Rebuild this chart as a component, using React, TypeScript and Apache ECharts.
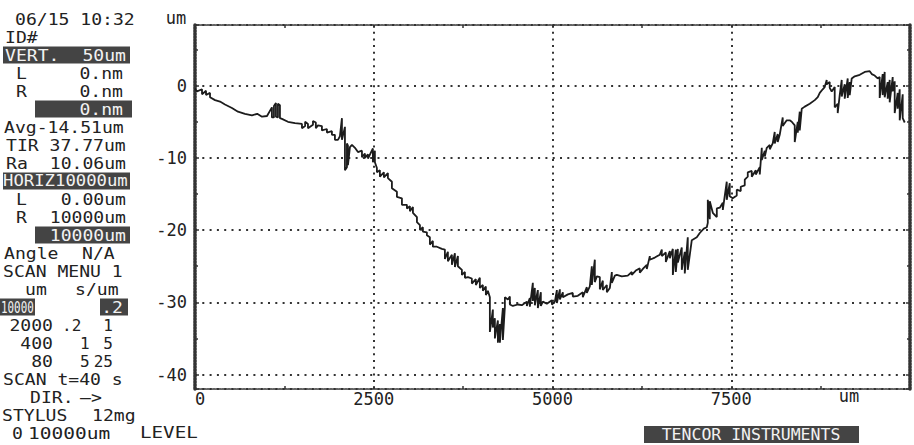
import React, { useEffect, useRef } from "react";
import * as echarts from "echarts";

// ---- data (um) ----
const xTickLabels = ["0", "2500", "5000", "7500"];
const yTickValues = [0, -10, -20, -30, -40];

const profileSeg1: [number, number][] = [
  [0, -0.4], [28, -0.8], [98, -0.5], [98, -1.2], [154, -0.7], [154, -1.3], [210, -1.0], [210, -1.6],
  [280, -2.0], [350, -2.2], [419, -2.6], [517, -3.1], [601, -3.6], [699, -3.9], [797, -4.1], [870, -3.9],
  [937, -4.3], [1007, -4.2], [1076, -3.0], [1076, -4.4], [1104, -4.4], [1104, -2.8], [1132, -2.4], [1132, -4.3],
  [1160, -4.4], [1160, -2.5], [1188, -2.7], [1188, -4.5], [1216, -4.6], [1300, -5.0], [1398, -5.2], [1496, -5.3],
  [1496, -5.9], [1540, -5.6], [1540, -5.0], [1580, -5.3], [1580, -5.9], [1650, -5.4], [1650, -4.9], [1690, -5.1],
  [1690, -5.9], [1720, -5.5], [1775, -5.6], [1775, -6.2], [1845, -6.0], [1845, -6.5], [1915, -6.3], [1915, -6.8],
  [1957, -6.8], [1957, -7.5], [1999, -7.5], [2027, -7.0], [2055, -4.5], [2055, -7.5], [2097, -5.7], [2097, -11.7],
  [2125, -11.3], [2125, -8.0], [2139, -8.3], [2139, -11.0], [2167, -8.5], [2195, -8.2], [2237, -8.6], [2279, -9.2],
  [2335, -9.0], [2335, -9.9], [2377, -9.4], [2377, -10.0], [2419, -9.5], [2419, -10.1], [2488, -8.7], [2488, -10.6],
  [2516, -9.0], [2516, -10.6], [2544, -11.4], [2544, -12.0],
];

const profileSeg2: [number, number][] = [
  [2586, -11.7], [2586, -12.6], [2642, -12.0], [2642, -12.7], [2698, -12.1], [2698, -12.8], [2754, -13.3], [2754, -14.2],
  [2824, -14.7], [2824, -15.4], [2894, -15.6], [2894, -16.5], [2964, -16.5], [2964, -17.0], [3006, -16.7], [3006, -17.4],
  [3048, -16.8], [3048, -17.6], [3104, -18.2], [3104, -18.9], [3146, -19.3], [3146, -20.0], [3187, -19.6], [3187, -20.2],
  [3243, -20.3], [3243, -20.7], [3285, -21.0], [3285, -22.0], [3327, -21.5], [3327, -22.3], [3383, -22.3], [3453, -22.6],
  [3495, -22.7], [3495, -24.0], [3537, -23.0], [3537, -24.3], [3593, -23.4], [3593, -24.8], [3635, -23.2], [3635, -25.1],
  [3677, -23.6], [3677, -25.0], [3733, -25.5], [3733, -26.2], [3775, -25.8], [3775, -26.6], [3817, -26.5], [3872, -26.7],
  [3872, -27.4], [3928, -26.8], [3928, -27.6], [3984, -26.6], [3984, -28.0], [4026, -27.6], [4026, -28.4], [4068, -27.8],
  [4068, -29.0], [4096, -28.4], [4124, -29.3], [4124, -34.1], [4166, -31.0], [4166, -33.5], [4194, -32.2], [4194, -35.0],
  [4236, -32.5], [4236, -35.6], [4264, -33.0], [4264, -35.6], [4306, -30.8], [4306, -35.2], [4334, -30.6], [4334, -29.3],
  [4376, -29.6], [4404, -29.2], [4404, -30.3], [4446, -30.5], [4516, -30.3], [4571, -30.4], [4641, -29.9], [4641, -30.5],
  [4683, -29.4], [4683, -30.6], [4725, -27.3], [4725, -29.8], [4753, -28.0], [4753, -30.4], [4795, -28.3], [4795, -30.8],
  [4837, -28.6], [4837, -30.5], [4865, -29.9], [4921, -30.2], [4991, -29.7], [4991, -30.3], [5033, -29.9], [5061, -28.3],
  [5061, -30.1],
];

const profileSeg3: [number, number][] = [
  [5103, -28.2], [5103, -29.6], [5145, -28.6], [5145, -29.3], [5215, -28.9], [5284, -28.7], [5284, -29.2], [5354, -29.1],
  [5424, -28.6], [5424, -29.3], [5480, -27.9], [5480, -28.7], [5522, -27.8], [5550, -25.0], [5550, -27.6], [5592, -24.1],
  [5592, -27.2], [5620, -26.4], [5662, -26.5], [5662, -28.2], [5704, -27.0], [5704, -28.3], [5760, -27.6], [5760, -28.6],
  [5802, -28.0], [5830, -25.8], [5830, -27.3], [5872, -26.3], [5900, -26.2], [5969, -26.4], [6053, -26.3], [6109, -25.8],
  [6109, -26.2], [6165, -25.6], [6221, -25.3], [6221, -25.9], [6270, -25.3], [6319, -24.8], [6319, -25.4], [6361, -23.6],
  [6361, -24.1], [6431, -23.8], [6501, -23.4], [6529, -22.7], [6529, -23.6], [6585, -23.1], [6585, -24.4], [6641, -22.9],
  [6641, -23.9], [6683, -22.6], [6683, -26.2], [6725, -22.7], [6725, -25.8], [6753, -22.6], [6753, -24.5], [6808, -22.4],
  [6808, -25.5], [6850, -23.0], [6850, -26.0], [6892, -21.0], [6892, -25.5], [6948, -21.4], [7018, -21.0], [7060, -20.4],
  [7116, -19.8], [7158, -19.6], [7172, -19.0], [7172, -15.8], [7200, -18.5], [7200, -16.0], [7242, -17.6], [7298, -18.2],
  [7298, -17.0], [7340, -16.9], [7382, -16.2], [7382, -17.2],
];

const profileSeg4: [number, number][] = [
  [7437, -13.3], [7437, -15.8], [7479, -13.5], [7479, -15.3], [7521, -15.6], [7577, -15.2], [7577, -14.4], [7633, -14.6],
  [7633, -14.0], [7689, -13.8], [7689, -13.0], [7731, -12.6], [7731, -12.0], [7787, -11.8], [7787, -12.6], [7843, -11.7],
  [7843, -12.3], [7899, -11.3], [7899, -12.3], [7927, -8.6], [7927, -10.3], [7969, -9.0], [7969, -9.8], [7997, -8.6],
  [8039, -8.2], [8039, -8.8], [8080, -8.0], [8108, -6.4], [8108, -8.0], [8150, -6.7], [8150, -7.8], [8178, -6.8],
  [8220, -4.4], [8220, -5.6], [8276, -4.8], [8318, -4.8], [8346, -5.0], [8388, -5.5], [8388, -7.8], [8430, -5.0],
  [8430, -6.5], [8458, -3.6], [8458, -6.2], [8486, -3.2], [8528, -2.9], [8598, -2.5], [8668, -2.0], [8710, -1.6],
  [8738, -1.0], [8779, -0.5], [8807, -0.2], [8835, 0.8], [8835, 0.2], [8877, 0.5], [8877, -0.3], [8905, -0.8],
  [8947, -0.2], [8947, -3.0], [8989, -2.5], [8989, -3.8], [9017, -1.3], [9045, 0.8], [9045, -1.5], [9087, 0.2],
  [9087, -1.8], [9129, 1.0], [9129, -1.7], [9157, 0.5], [9157, -1.3], [9185, 1.0], [9227, 1.3], [9297, 1.5],
  [9367, 1.9], [9437, 2.0], [9465, 1.6], [9506, 1.4], [9548, 1.0], [9576, 1.2], [9576, -1.7], [9618, 1.6],
  [9618, -1.3], [9646, 1.9], [9646, -1.6], [9688, 0.5], [9688, -1.8], [9716, 0.8], [9716, -2.3], [9758, 1.2],
  [9758, -0.8], [9786, 0.6], [9786, -3.8], [9828, -1.0], [9828, -3.2], [9856, -0.5], [9856, -4.8], [9898, -1.2],
  [9898, -4.5], [9926, -5.1],
];

// ---- side panel text ----
const headerLines = ["06/15 10:32", "ID#"];
const vertInfo = ["VERT.", "50um", "0.nm", "0.nm", "0.nm"];
const statLines = ["Avg-14.51um", "TIR 37.77um", "Ra", "10.06um"];
const horizInfo = ["HORIZ10000um", "0.00um", "10000um", "10000um"];
const angleInfo = ["Angle", "N/A", "SCAN MENU 1"];
const menuHead = ["um", "s/um"];
const menuRows = [["2000", ".2", "1"], ["400", "1", "5"], ["80", "5", "25"]];
const scanLines = ["SCAN t=40 s", "DIR.", "—>", "STYLUS", "12mg", "0", "10000um", "LEVEL"];
const brand = "TENCOR INSTRUMENTS";

const FONT = '"DejaVu Sans Mono", "Liberation Mono", monospace';
const INK = "#222";
const BOX = "#444";
const PAPER = "#f2f2f2";

const rowY = (r: number) => 19 + 18 * r;

function txt(s: string, x: number, r: number, align: string = "left", fill: string = INK, sx = 1.13) {
  return {
    type: "text",
    x,
    y: rowY(r),
    scaleX: sx,
    z: 20,
    style: {
      text: s,
      fill,
      font: `16px ${FONT}`,
      textAlign: align,
      align,
      textVerticalAlign: "middle",
      verticalAlign: "middle",
    },
  };
}

function box(x0: number, x1: number, r: number) {
  return {
    type: "rect",
    z: 15,
    shape: { x: x0, y: rowY(r) - 8.5, width: x1 - x0, height: 17 },
    style: { fill: BOX },
  };
}

export default function App() {
  const ref = useRef<HTMLDivElement>(null);

  useEffect(() => {
    document.body.style.margin = "0";
    if (!ref.current) return;
    const chart = echarts.init(ref.current, null, { renderer: "svg" });

    const profile = [...profileSeg1, ...profileSeg2, ...profileSeg3, ...profileSeg4];

    const graphic: any[] = [
      txt(headerLines[0], 15, 0),
      txt(headerLines[1], 5, 1),
      box(3, 130, 2),
      txt(vertInfo[0], 5, 2, "left", PAPER),
      txt(vertInfo[1], 126, 2, "right", PAPER),
      txt("L", 16, 3),
      txt(vertInfo[2], 123, 3, "right"),
      txt("R", 16, 4),
      txt(vertInfo[3], 123, 4, "right"),
      box(35, 132, 5),
      txt(vertInfo[4], 123, 5, "right", PAPER),
      txt(statLines[0], 4, 6),
      txt(statLines[1], 6, 7),
      txt(statLines[2], 6, 8),
      txt(statLines[3], 126, 8, "right"),
      box(3, 130, 9),
      txt(horizInfo[0], 3, 9, "left", PAPER, 1.08),
      txt("L", 16, 10),
      txt(horizInfo[1], 126, 10, "right"),
      txt("R", 16, 11),
      txt(horizInfo[2], 126, 11, "right"),
      box(35, 130, 12),
      txt(horizInfo[3], 126, 12, "right", PAPER),
      txt(angleInfo[0], 4, 13),
      txt(angleInfo[1], 82, 13),
      txt(angleInfo[2], 3, 14),
      txt(menuHead[0], 25, 15),
      txt(menuHead[1], 75, 15),
      box(0, 35, 16),
      txt("10000", 1, 16, "left", PAPER, 0.68),
      box(100, 128, 16),
      txt(".2", 123, 16, "right", PAPER),
      ...menuRows.flatMap((m, i) => [
        txt(m[0], 53, 17 + i, "right"),
        txt(m[1], i === 0 ? 62 : 80, 17 + i, "left", INK, 1.0),
        txt(m[2], 113, 17 + i, "right", INK, 1.0),
      ]),
      txt(scanLines[0], 3, 20),
      txt(scanLines[1], 30, 21),
      txt(scanLines[2], 80, 21),
      txt(scanLines[3], 2, 22),
      txt(scanLines[4], 92, 22),
      txt(scanLines[5], 12, 23),
      txt(scanLines[6], 28, 23, "left", INK, 1.22),
      txt(scanLines[7], 140, 23, "left", INK, 1.2),
      {
        type: "rect",
        z: 15,
        shape: { x: 644, y: 426, width: 215, height: 17 },
        style: { fill: BOX },
      },
      {
        type: "text",
        x: 751,
        y: 434.5,
        z: 20,
        scaleX: 1.1,
        style: {
          text: brand,
          fill: PAPER,
          font: `15px ${FONT}`,
          textAlign: "center",
          align: "center",
          textVerticalAlign: "middle",
          verticalAlign: "middle",
        },
      },
      // axis unit labels
      {
        type: "text",
        x: 176,
        y: 18,
        z: 20,
        style: {
          text: "um",
          fill: INK,
          font: `17px ${FONT}`,
          textAlign: "center",
          align: "center",
          textVerticalAlign: "middle",
          verticalAlign: "middle",
        },
      },
      {
        type: "text",
        x: 849,
        y: 396,
        z: 20,
        style: {
          text: "um",
          fill: INK,
          font: `17px ${FONT}`,
          textAlign: "center",
          align: "center",
          textVerticalAlign: "middle",
          verticalAlign: "middle",
        },
      },
    ];

    const borderHeavy = { show: true, onZero: false, lineStyle: { color: "#333", width: 3.5, type: [2, 1] as any } };
    const borderLight = { show: true, onZero: false, lineStyle: { color: "#333", width: 1.5, type: [2, 1] as any } };
    const dotGrid = (gap: number) => ({
      show: true,
      lineStyle: { color: "#333", width: 2, type: [2, gap] as any },
    });

    chart.setOption({
      animation: false,
      backgroundColor: "#ffffff",
      grid: { left: 195, right: 4, top: 25, bottom: 56, containLabel: false },
      xAxis: [
        {
          type: "value",
          min: 0,
          max: 10000,
          interval: 2500,
          position: "bottom",
          axisLine: borderLight,
          axisTick: { show: true, inside: true, length: 3, lineStyle: { color: "#333", width: 1.5 } },
          minorTick: { show: true, splitNumber: 2, length: 3, lineStyle: { color: "#333", width: 1.5 } },
          axisLabel: {
            show: true,
            margin: 1,
            color: INK,
            fontFamily: FONT,
            fontSize: 17,
            alignMinLabel: "left",
            formatter: (v: number) => {
              const i = Math.round(v / 2500);
              return v % 2500 === 0 && i < xTickLabels.length ? xTickLabels[i] : "";
            },
          },
          splitLine: dotGrid(4.7),
        },
        {
          type: "value",
          min: 0,
          max: 10000,
          interval: 2500,
          position: "top",
          axisLine: borderLight,
          axisTick: { show: true, inside: true, length: 3, lineStyle: { color: "#333", width: 1.5 } },
          minorTick: { show: true, splitNumber: 2, length: 3, lineStyle: { color: "#333", width: 1.5 } },
          axisLabel: { show: false },
          splitLine: { show: false },
        },
      ],
      yAxis: [
        {
          type: "value",
          min: -42,
          max: 8.4,
          splitNumber: 5,
          position: "left",
          axisLine: borderHeavy,
          axisTick: { show: true, inside: true, length: 4, lineStyle: { color: "#333", width: 1.5 } },
          minorTick: { show: true, splitNumber: 2, length: 3, lineStyle: { color: "#333", width: 1.5 } },
          axisLabel: {
            show: true,
            margin: 8,
            color: INK,
            fontFamily: FONT,
            fontSize: 17,
            showMinLabel: false,
            showMaxLabel: false,
            formatter: (v: number) => (yTickValues.indexOf(v) >= 0 ? String(v) : ""),
          },
          splitLine: dotGrid(5.3),
        },
        {
          type: "value",
          min: -42,
          max: 8.4,
          splitNumber: 5,
          position: "right",
          axisLine: borderHeavy,
          axisTick: { show: true, inside: true, length: 4, lineStyle: { color: "#333", width: 1.5 } },
          minorTick: { show: true, splitNumber: 2, length: 3, lineStyle: { color: "#333", width: 1.5 } },
          axisLabel: { show: false },
          splitLine: { show: false },
        },
      ],
      series: [
        {
          type: "line",
          xAxisIndex: 0,
          yAxisIndex: 0,
          data: profile,
          showSymbol: false,
          symbol: "none",
          clip: true,
          lineStyle: { color: "#1c1c1c", width: 1.8 },
          z: 5,
        },
      ],
      graphic,
    });

    return () => chart.dispose();
  }, []);

  return <div ref={ref} style={{ width: 914, height: 445 }} />;
}
